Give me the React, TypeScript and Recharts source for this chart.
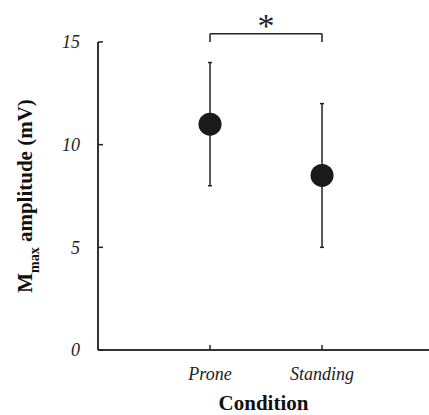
import React from "react";
import { ScatterChart, Scatter, ErrorBar, XAxis, YAxis, ReferenceLine, ReferenceDot } from "recharts";

const conditions = ["Prone", "Standing"];
const conditionPos = [1, 2];
const meanAmplitude = [11, 8.5];
const sdAmplitude = [3, 3.5];
const yTicks = [0, 5, 10, 15];
const bracketTop = 15.4;
const bracketFoot = 15.0;

const data = conditions.map((name, i) => ({
  name,
  x: conditionPos[i],
  y: meanAmplitude[i],
  err: sdAmplitude[i]
}));

const FONT = "'Liberation Serif', 'Times New Roman', serif";
const INK = "#222";

function YTick(props: any) {
  const { x, y, payload } = props;
  const axisX = x + 18;
  return (
    <g>
      <line x1={axisX} x2={axisX + 5} y1={y} y2={y} stroke={INK} strokeWidth={1.5} />
      <text x={x} y={y} dy="0.35em" textAnchor="end" fontFamily={FONT} fontStyle="italic" fontSize={18} fill={INK}>
        {payload.value}
      </text>
    </g>
  );
}

function XTick(props: any) {
  const { x, y, payload } = props;
  const axisY = y - 14;
  const idx = conditionPos.indexOf(payload.value);
  return (
    <g>
      <line x1={x} x2={x} y1={axisY} y2={axisY - 5} stroke={INK} strokeWidth={1.5} />
      <text x={x} y={y} dy="0.9em" textAnchor="middle" fontFamily={FONT} fontStyle="italic" fontSize={18} fill={INK}>
        {idx >= 0 ? conditions[idx] : ""}
      </text>
    </g>
  );
}

function Dot(props: any) {
  return <circle cx={props.cx} cy={props.cy} r={11.5} fill="#1a1a1a" />;
}

export default function App() {
  return (
    <div style={{ position: "absolute", left: 0, top: 0, background: "#fff" }}>
      <ScatterChart width={429} height={415} margin={{ top: 42, right: 0, bottom: 35, left: 38 }}>
        <XAxis
          type="number"
          dataKey="x"
          domain={[0, 2.955]}
          ticks={conditionPos}
          height={30}
          tickSize={0}
          tickMargin={14}
          tick={<XTick />}
          axisLine={{ stroke: "#333", strokeWidth: 2 }}
          label={{
            content: (p: any) => (
              <text x={p.viewBox.x + p.viewBox.width / 2} y={410} textAnchor="middle" fontFamily={FONT} fontWeight="bold" fontSize={21} fill="#111">
                Condition
              </text>
            )
          }}
        />
        <YAxis
          type="number"
          dataKey="y"
          domain={[0, 15]}
          ticks={yTicks}
          width={60}
          tickSize={0}
          tickMargin={18}
          tick={<YTick />}
          axisLine={{ stroke: "#333", strokeWidth: 2 }}
          label={{
            content: (p: any) => {
              const cy = p.viewBox.y + p.viewBox.height / 2;
              return (
                <text x={32} y={cy} transform={`rotate(-90, 32, ${cy})`} textAnchor="middle" fontFamily={FONT} fontWeight="bold" fontSize={21} fill="#111">
                  <tspan>M</tspan>
                  <tspan fontSize={14} dy={7}>max</tspan>
                  <tspan dy={-7}> amplitude (mV)</tspan>
                </text>
              );
            }
          }}
        />
        <ReferenceLine segment={[{ x: conditionPos[0], y: bracketFoot }, { x: conditionPos[0], y: bracketTop }]} stroke={INK} strokeWidth={1.5} ifOverflow="visible" />
        <ReferenceLine segment={[{ x: conditionPos[0], y: bracketTop }, { x: conditionPos[1], y: bracketTop }]} stroke={INK} strokeWidth={1.5} ifOverflow="visible" />
        <ReferenceLine segment={[{ x: conditionPos[1], y: bracketFoot }, { x: conditionPos[1], y: bracketTop }]} stroke={INK} strokeWidth={1.5} ifOverflow="visible" />
        <ReferenceDot
          x={(conditionPos[0] + conditionPos[1]) / 2}
          y={bracketTop}
          r={0}
          ifOverflow="visible"
          label={{
            content: (p: any) => (
              <text x={p.viewBox.x} y={p.viewBox.y + 3} textAnchor="middle" fontFamily={FONT} fontSize={34} fill={INK}>
                *
              </text>
            )
          }}
        />
        <Scatter data={data} fill="#1a1a1a" shape={<Dot />} isAnimationActive={false}>
          <ErrorBar dataKey="err" direction="y" width={2} stroke={INK} strokeWidth={1.5} />
        </Scatter>
      </ScatterChart>
    </div>
  );
}
